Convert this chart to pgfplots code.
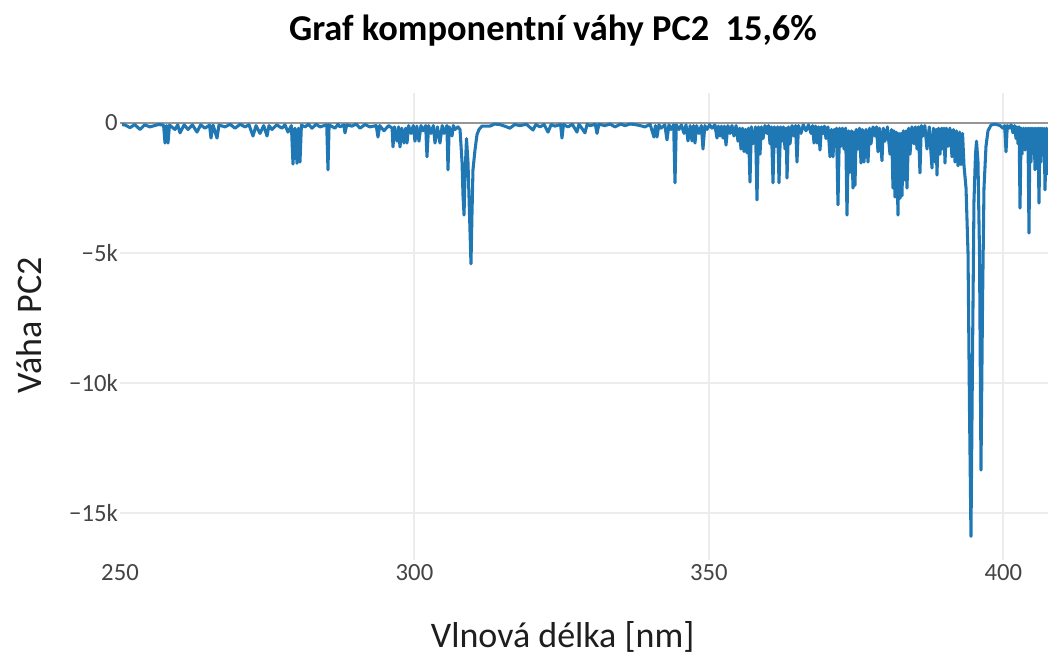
\documentclass[border=0pt]{standalone}
\usepackage{fontspec}
\setmainfont{Carlito}
\usepackage{pgfplots}
\usepackage{pgfplotstable}
\pgfplotsset{compat=1.18}
\definecolor{pblue}{RGB}{31,119,180}
\definecolor{ptick}{RGB}{68,68,68}
\definecolor{pgrid}{RGB}{236,236,236}
\definecolor{pzero}{RGB}{150,150,150}
\definecolor{ptitle}{RGB}{30,30,30}
\pgfplotstableread{
x y
250.34 -60
250.9 -80
251.70 -180
252.5 -60
253.40 -250
254.2 -70
255.09 -150
256.5 -60
257.4 -80
257.64 -770
257.9 -100
258.15 -770
258.4 -80
259.34 -250
259.8 -70
260.19 -380
260.9 -70
261.55 -250
262.3 -70
263.07 -350
263.7 -70
264.43 -200
265.2 -80
265.45 -580
265.8 -80
266.47 -580
266.8 -80
267.83 -150
268.7 -50
269.52 -200
270.4 -50
271.22 -150
271.9 -70
272.58 -500
273.1 -100
273.77 -400
274.4 -100
274.96 -500
275.3 -100
275.81 -250
276.6 -70
277.50 -200
278.0 -70
278.52 -350
279.1 -100
279.37 -1580
279.7 -200
280.05 -1550
280.3 -200
280.56 -1500
280.8 -80
281.41 -150
282.0 -50
282.60 -200
283.3 -50
283.96 -150
285.1 -70
285.31 -1800
285.5 -70
286.50 -200
287.0 -50
287.35 -150
288.0 -70
288.20 -380
288.5 -70
289.39 -120
290.1 -40
290.75 -200
291.6 -60
292.44 -150
293.5 -100
293.80 -540
294.1 -100
294.82 -300
295.6 -100
296.2 -200
296.35 -920
296.6 -150
297.03 -700
297.3 -150
297.54 -920
297.85 -200
298.22 -770
298.5 -200
298.73 -770
299.0 -100
299.41 -400
299.8 -100
300.08 -700
300.4 -120
300.76 -700
301.1 -100
301.44 -300
301.9 -100
302.12 -1300
302.4 -100
302.80 -400
303.2 -100
303.48 -770
303.9 -150
304.33 -770
304.7 -100
305.01 -400
305.5 -100
305.69 -1800
305.9 -150
306.37 -500
306.6 -100
306.88 -250
307.39 -150
307.73 -250
308.07 -1500
308.24 -2800
308.41 -3540
308.58 -2000
308.83 -600
309.08 -1500
309.34 -3500
309.59 -5420
309.76 -3500
309.93 -1800
310.27 -1040
310.61 -450
310.95 -250
311.46 -120
312.82 -120
313.6 -40
314.52 -60
315.3 -120
316.21 -200
317.0 -60
317.91 -100
319.0 -50
320.12 -270
320.6 -60
321.31 -150
322.0 -60
322.67 -350
323.2 -60
323.85 -120
324.8 -60
325.04 -580
325.3 -60
326.06 -150
326.8 -50
327.59 -350
327.9 -60
328.10 -100
328.95 -380
329.3 -50
329.80 -100
330.7 -50
330.99 -400
331.3 -50
332.34 -100
333.2 -40
334.04 -150
335.0 -40
335.74 -100
336.6 -40
337.44 -60
338.3 -100
339.13 -150
340.0 -50
340.66 -540
340.9 -100
341.17 -540
341.5 -70
341.85 -200
342.5 -70
342.87 -650
343.2 -70
343.55 -250
344.0 -70
344.23 -2300
344.45 -70
344.91 -250
345.3 -70
345.76 -400
346.1 -70
346.43 -690
346.8 -100
347.11 -690
347.4 -100
347.62 -770
347.9 -100
348.30 -400
348.7 -100
348.98 -1000
349.3 -100
349.66 -250
350.1 -70
350.51 -200
351.0 -70
351.36 -580
351.6 -120
351.87 -500
352.1 -120
352.38 -580
352.6 -120
352.89 -850
353.2 -100
353.57 -400
353.9 -100
354.24 -500
354.6 -100
354.92 -700
355.2 -200
355.43 -1000
355.7 -200
355.94 -1100
356.2 -250
356.45 -1150
356.7 -200
356.96 -2270
357.2 -150
357.47 -800
357.9 -150
358.15 -2960
358.4 -150
358.66 -1200
358.9 -150
359.17 -600
359.5 -100
359.85 -400
360.1 -100
360.36 -800
360.6 -150
360.87 -2300
361.1 -150
361.38 -900
361.65 -150
361.89 -2300
362.15 -150
362.40 -700
362.65 -150
362.91 -1000
363.1 -200
363.25 -2120
363.5 -150
363.76 -800
364.1 -100
364.43 -500
364.7 -100
364.94 -1500
365.2 -100
365.62 -400
366.0 -70
366.47 -300
366.9 -70
367.32 -400
367.6 -100
367.83 -770
368.1 -120
368.34 -770
368.6 -150
368.85 -1040
369.1 -150
369.36 -400
369.6 -120
369.87 -600
370.2 -150
370.55 -1300
370.8 -250
371.06 -1300
371.25 -250
371.40 -900
371.65 -200
371.90 -3150
372.15 -200
372.41 -900
372.65 -200
372.92 -1000
373.2 -200
373.43 -3540
373.7 -300
373.94 -1900
374.2 -300
374.45 -2500
374.6 -350
374.79 -2400
375.0 -250
375.30 -1000
375.55 -200
375.81 -1540
376.05 -250
376.32 -1500
376.65 -250
377.00 -1500
377.25 -200
377.51 -800
377.85 -150
378.18 -500
378.45 -150
378.69 -1110
378.95 -200
379.37 -1450
379.6 -200
379.88 -700
380.3 -150
380.73 -1200
381.0 -250
381.24 -2500
381.4 -300
381.58 -2850
381.8 -350
382.09 -3540
382.25 -400
382.43 -2900
382.6 -400
382.77 -2800
383.0 -300
383.28 -2200
383.45 -300
383.62 -2500
383.9 -200
384.13 -1200
384.45 -150
384.81 -800
385.05 -150
385.32 -1000
385.55 -150
385.82 -1920
386.05 -100
386.33 -500
386.65 -100
387.01 -1000
387.4 -150
387.86 -1730
388.1 -200
388.37 -1500
388.55 -250
388.71 -2000
388.95 -200
389.22 -1200
389.5 -200
389.73 -1000
389.9 -200
390.07 -1540
390.3 -200
390.58 -900
390.9 -200
391.26 -1300
391.5 -250
391.77 -1500
392.0 -300
392.28 -1650
392.55 -350
392.79 -1600
393.05 -400
393.30 -1650
393.64 -2500
393.98 -5000
394.23 -11000
394.48 -15900
394.74 -9000
394.99 -3000
395.25 -1200
395.42 -700
395.67 -1500
395.93 -5000
396.18 -13350
396.44 -7000
396.69 -2500
397.03 -900
397.37 -300
397.88 -80
398.56 -40
399.41 -100
399.92 -200
400.2 -100
400.43 -1110
400.65 -100
400.94 -200
401.3 -70
401.62 -380
401.9 -100
402.13 -600
402.3 -150
402.47 -800
402.65 -150
402.81 -3270
403.0 -200
403.14 -1200
403.4 -200
403.65 -1040
403.8 -200
403.99 -900
404.15 -200
404.33 -4230
404.5 -200
404.67 -1500
404.85 -200
405.01 -900
405.2 -200
405.35 -1800
405.5 -200
405.69 -1000
405.85 -200
406.03 -3080
406.2 -200
406.37 -1500
406.55 -200
406.71 -1000
406.9 -200
407.05 -2570
407.3 -200
407.56 -2000
}\pctwo
\begin{document}
\begin{tikzpicture}
\path[use as bounding box] (0,0) rectangle (786pt,491.25pt);
\begin{axis}[
  at={(90pt,71.25pt)}, anchor=south west,
  scale only axis, width=696pt, height=350.25pt,
  xmin=250, xmax=407.56, ymin=-16808, ymax=1154,
  axis line style={draw=none},
  major tick length=0pt,
  tick style={draw=none},
  xtick={300,350,400},
  xticklabels={300,350,400},
  extra x ticks={250},
  extra x tick labels={250},
  extra x tick style={grid=none},
  ytick={-15000,-10000,-5000},
  yticklabels={−15k,−10k,−5k},
  extra y ticks={0},
  extra y tick labels={0},
  extra y tick style={grid style={color=pzero, line width=2pt}},
  scaled y ticks=false,
  grid=major,
  grid style={color=pgrid, line width=1.5pt},
  ticklabel style={font=\fontsize{18.5}{22}\selectfont, text=ptick},
  yticklabel style={inner xsep=1.5pt},
  title={Graf komponentní váhy PC2\ \ 15,6\%},
  title style={at={(axis description cs:0.4666,1.116)}, anchor=center,
    font=\bfseries\fontsize{27.3}{31}\selectfont, text=black},
  xlabel={Vlnová délka [nm]},
  xlabel style={at={(axis description cs:0.477,-0.165)}, anchor=center,
    font=\fontsize{27}{31}\selectfont, text=ptitle},
  ylabel={Váha PC2},
  ylabel style={at={(axis description cs:-0.0975,0.503)}, anchor=center,
    font=\fontsize{27}{31}\selectfont, text=ptitle},
]
\addplot[pblue, line width=2.3pt, line join=round, sharp plot] table[x=x,y=y] {\pctwo};
\end{axis}
\end{tikzpicture}
\end{document}
